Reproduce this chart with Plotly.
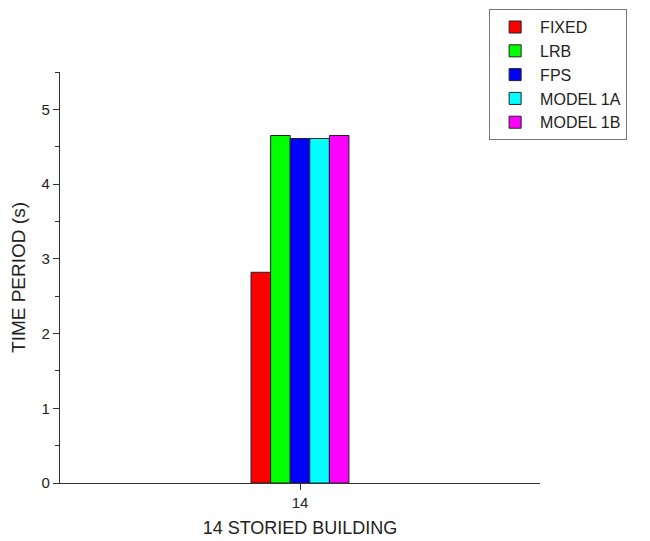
import plotly.graph_objects as go

categories = ["14"]
series_names = ["FIXED", "LRB", "FPS", "MODEL 1A", "MODEL 1B"]
fixed = [2.82]
lrb = [4.65]
fps = [4.61]
model_1a = [4.61]
model_1b = [4.65]
series_values = [fixed, lrb, fps, model_1a, model_1b]
colors = ["#FF0000", "#00FF00", "#0000FF", "#00FFFF", "#FF00FF"]

fig = go.Figure()
for name, vals, col in zip(series_names, series_values, colors):
    fig.add_trace(go.Bar(
        x=categories, y=vals, name=name,
        marker=dict(color=col, line=dict(color="#222222", width=1)),
    ))

fig.update_layout(
    width=650, height=541,
    paper_bgcolor="white", plot_bgcolor="white",
    margin=dict(l=60, r=110, t=72, b=58, autoexpand=False),
    barmode="group", bargap=0.796, bargroupgap=0,
    font=dict(family="Liberation Sans, Arial, sans-serif", size=14, color="#222222"),
    showlegend=True,
    legend=dict(
        x=0.894, y=1.153, xanchor="left", yanchor="top",
        bordercolor="#777777", borderwidth=1, bgcolor="white",
        font=dict(size=16, color="#222222"),
        tracegroupgap=0, itemwidth=40,
    ),
)
fig.update_xaxes(
    type="category", range=[-0.5, 0.5],
    showline=True, linecolor="#333333", linewidth=1.2,
    ticks="outside", ticklen=6, tickcolor="#333333",
    showgrid=False, zeroline=False,
    tickfont=dict(size=15),
    title=dict(text="14 STORIED BUILDING", font=dict(size=18), standoff=11),
)
fig.update_yaxes(
    range=[0, 5.5], dtick=1, tick0=0,
    showline=True, linecolor="#333333", linewidth=1.2,
    ticks="outside", ticklen=6, tickcolor="#333333",
    minor=dict(ticks="outside", ticklen=4, dtick=0.5, tickcolor="#333333"),
    showgrid=False, zeroline=False,
    tickfont=dict(size=15),
    title=dict(text="TIME PERIOD (s)", font=dict(size=19), standoff=10),
)

fig.write_html(
    "out.html",
    config={"displayModeBar": False},
    post_script="document.body.style.margin='0';document.body.style.overflow='hidden';",
)
